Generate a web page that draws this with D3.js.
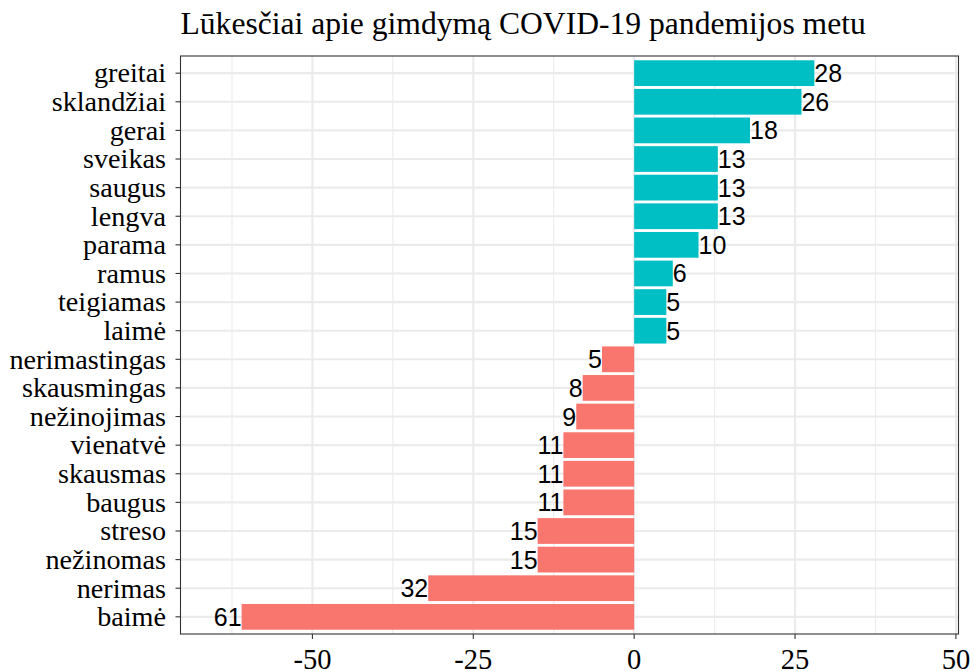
<!DOCTYPE html>
<html><head><meta charset="utf-8">
<script src="https://cdn.jsdelivr.net/npm/d3@7"></script>
<style>body{margin:0;background:#fff;}</style>
</head><body>
<svg id="chart" width="974" height="671"></svg>
<script>
const title = "Lūkesčiai apie gimdymą COVID-19 pandemijos metu";
const categories = ["greitai","sklandžiai","gerai","sveikas","saugus","lengva","parama","ramus","teigiamas","laimė",
  "nerimastingas","skausmingas","nežinojimas","vienatvė","skausmas","baugus","streso","nežinomas","nerimas","baimė"];
const values = [28,26,18,13,13,13,10,6,5,5,-5,-8,-9,-11,-11,-11,-15,-15,-32,-61];
const xTicks = [-50,-25,0,25,50];
const xMinor = [-62.5,-37.5,-12.5,12.5,37.5];
const posColor = "#00BFC4", negColor = "#F8766D";

(function(){
const svg = d3.select("#chart");
const pL = 180.5, pR = 958.5, pT = 56, pB = 634;
const x = d3.scaleLinear().domain([-70.5, 50.4]).range([pL, pR]);
const y = d3.scalePoint().domain(categories).range([pT, pB]).padding(0.6);
const step = y.step();
const bw = step * 0.9;
const serif = "Liberation Serif, Times New Roman, serif";

svg.append("rect").attr("x", pL).attr("y", pT).attr("width", pR-pL).attr("height", pB-pT).attr("fill", "#fff");
const g = svg.append("g");
g.selectAll(".minor").data(xMinor).join("line")
  .attr("x1", d => x(d)).attr("x2", d => x(d)).attr("y1", pT).attr("y2", pB)
  .attr("stroke", "#EBEBEB").attr("stroke-width", 1.1);
g.selectAll(".major").data(xTicks).join("line")
  .attr("x1", d => x(d)).attr("x2", d => x(d)).attr("y1", pT).attr("y2", pB)
  .attr("stroke", "#EBEBEB").attr("stroke-width", 2.1);
g.selectAll(".hmajor").data(categories).join("line")
  .attr("x1", pL).attr("x2", pR).attr("y1", d => y(d)).attr("y2", d => y(d))
  .attr("stroke", "#EBEBEB").attr("stroke-width", 2.1);

const data = categories.map((c, i) => ({c, v: values[i]}));
g.selectAll(".bar").data(data).join("rect")
  .attr("x", d => x(Math.min(0, d.v))).attr("width", d => Math.abs(x(d.v) - x(0)))
  .attr("y", d => y(d.c) - bw/2).attr("height", bw)
  .attr("fill", d => d.v >= 0 ? posColor : negColor);

g.selectAll(".lbl").data(data).join("text")
  .attr("x", d => x(d.v)).attr("y", d => y(d.c))
  .attr("dy", "0.36em")
  .attr("text-anchor", d => d.v >= 0 ? "start" : "end")
  .attr("font-family", "Liberation Sans, Arial, sans-serif").attr("font-size", 25).attr("fill", "#000")
  .text(d => Math.abs(d.v));

svg.append("rect").attr("x", pL).attr("y", pT).attr("width", pR-pL).attr("height", pB-pT)
  .attr("fill", "none").attr("stroke", "#333333").attr("stroke-width", 1.1);

const xa = svg.append("g");
xa.selectAll("line").data(xTicks).join("line")
  .attr("x1", d => x(d)).attr("x2", d => x(d)).attr("y1", pB).attr("y2", pB + 5)
  .attr("stroke", "#333333").attr("stroke-width", 1.1);
xa.selectAll("text").data(xTicks).join("text")
  .attr("x", d => x(d)).attr("y", pB + 35)
  .attr("text-anchor", "middle")
  .attr("font-family", serif).attr("font-size", 28.5).attr("fill", "#000")
  .text(d => d);

const ya = svg.append("g");
ya.selectAll("line").data(categories).join("line")
  .attr("x1", pL - 5).attr("x2", pL).attr("y1", d => y(d)).attr("y2", d => y(d))
  .attr("stroke", "#333333").attr("stroke-width", 1.1);
ya.selectAll("text").data(categories).join("text")
  .attr("x", pL - 14.5).attr("y", d => y(d)).attr("dy", "0.33em")
  .attr("text-anchor", "end")
  .attr("font-family", serif).attr("font-size", 28.2).attr("fill", "#000")
  .text(d => d);

svg.append("text").attr("x", pL).attr("y", 34)
  .attr("font-family", serif).attr("font-size", 31.6).attr("fill", "#000")
  .text(title);
})();
</script>
</body></html>
